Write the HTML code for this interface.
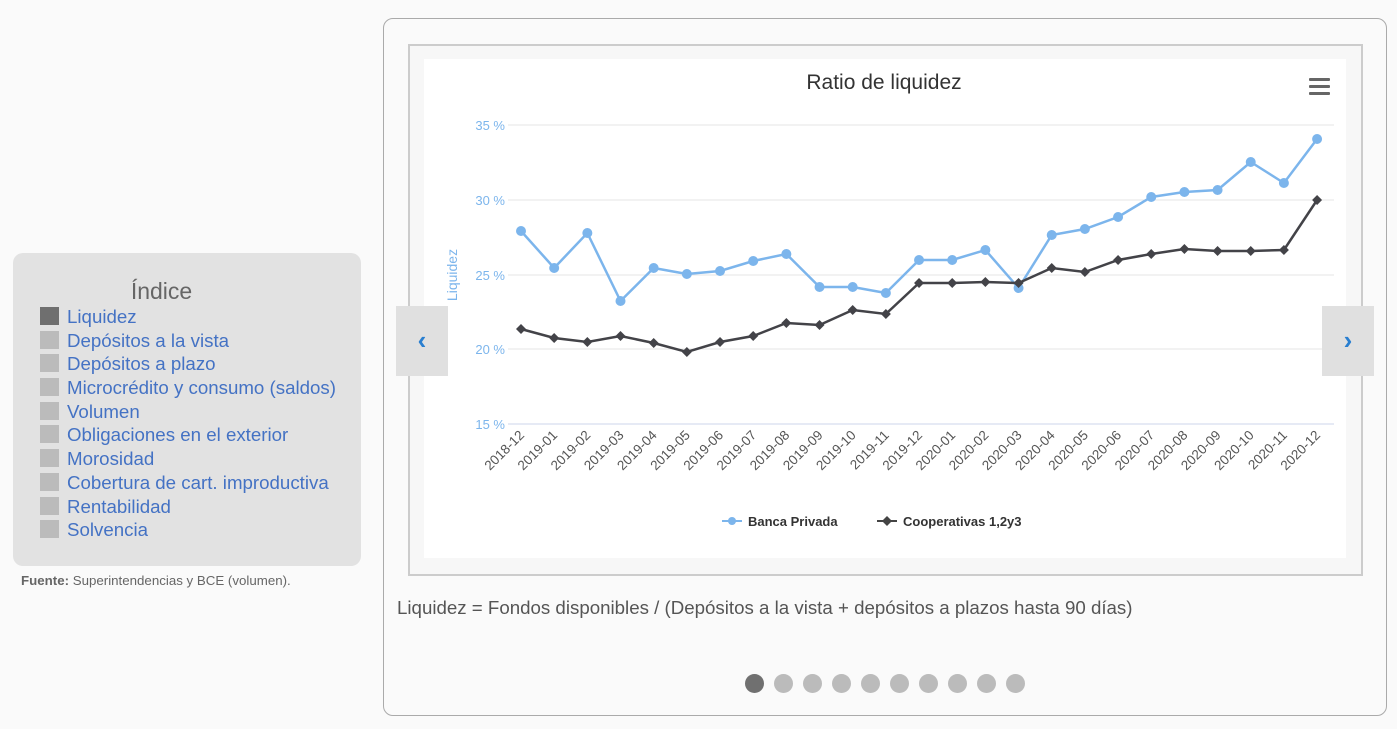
<!DOCTYPE html>
<html><head><meta charset="utf-8"><style>
body{margin:0;width:1397px;height:729px;background:#fafafa;font-family:"Liberation Sans",sans-serif;position:relative;overflow:hidden}
.idx{position:absolute;left:13px;top:253px;width:348px;height:313px;background:#e2e2e2;border-radius:10px}
.idx h3{margin:0;position:absolute;top:25px;left:0;width:297px;text-align:center;font-weight:normal;font-size:23px;color:#666}
.idx ul{list-style:none;margin:0;padding:0;position:absolute;left:27px;top:53px}
.idx li{height:23.7px;font-size:18.7px;color:#4472c4;line-height:22px;position:relative;padding-left:27px;white-space:nowrap}
.idx li:before{content:"";position:absolute;left:0;top:1px;width:19px;height:18px;background:#bbb}
.idx li.a:before{background:#6f6f6f}
.src{position:absolute;left:21px;top:573px;font-size:13.3px;color:#666}
.card{position:absolute;left:383px;top:18px;width:1002px;height:696px;border:1px solid #aaa;border-radius:10px;background:#fafafa}
.frame{position:absolute;left:408px;top:44px;width:951px;height:528px;border:2px solid #ccc;background:#f7f7f7}
.chart{position:absolute;left:424px;top:59px;width:922px;height:499px;background:#fff}
.nav{position:absolute;top:306px;width:52px;height:70px;background:#e0e0e0;color:#2a7fd0;font-size:26px;text-align:center;line-height:68px;font-weight:bold}
.note{position:absolute;left:397px;top:597px;font-size:18.7px;color:#555;white-space:nowrap}
.dots{position:absolute;left:745px;top:674px}
.dots span{display:inline-block;width:19px;height:19px;border-radius:50%;background:#bbb;margin-right:10px}
</style></head><body>
<div class="idx"><h3>Índice</h3><ul>
<li class="a">Liquidez</li><li>Depósitos a la vista</li><li>Depósitos a plazo</li><li>Microcrédito y consumo (saldos)</li><li>Volumen</li><li>Obligaciones en el exterior</li><li>Morosidad</li><li>Cobertura de cart. improductiva</li><li>Rentabilidad</li><li>Solvencia</li></ul></div>
<div class="src"><b>Fuente:</b> Superintendencias y BCE (volumen).</div>
<div class="card"></div>
<div class="frame"></div>
<div class="chart"></div>
<svg id="s" style="position:absolute;left:0;top:0" width="1397" height="729" font-family="Liberation Sans, sans-serif">
<text x="884" y="89" text-anchor="middle" font-size="21" fill="#333">Ratio de liquidez</text>
<g fill="#666"><rect x="1309" y="78" width="21" height="3" rx="1"/><rect x="1309" y="85" width="21" height="3" rx="1"/><rect x="1309" y="92" width="21" height="3" rx="1"/></g>
<g stroke="#e6e6e6"><line x1="508" x2="1334" y1="125" y2="125"/><line x1="508" x2="1334" y1="200" y2="200"/><line x1="508" x2="1334" y1="275" y2="275"/><line x1="508" x2="1334" y1="349" y2="349"/></g>
<line x1="508" x2="1334" y1="424" y2="424" stroke="#ccd6eb"/>
<g fill="#7cb5ec" font-size="13" text-anchor="end"><text x="505" y="130">35 %</text><text x="505" y="205">30 %</text><text x="505" y="280">25 %</text><text x="505" y="354">20 %</text><text x="505" y="429">15 %</text></g>
<text transform="translate(457,275) rotate(-90)" text-anchor="middle" fill="#7cb5ec" font-size="14">Liquidez</text>
<g id="g"></g>
<g font-size="13" font-weight="bold" fill="#333">
<line x1="722" x2="742" y1="521" y2="521" stroke="#7cb5ec" stroke-width="2"/><circle cx="732" cy="521" r="4" fill="#7cb5ec"/><text x="748" y="526">Banca Privada</text>
<line x1="877" x2="897" y1="521" y2="521" stroke="#444" stroke-width="2"/><path d="M887 516 L892 521 L887 526 L882 521Z" fill="#444"/><text x="903" y="526">Cooperativas 1,2y3</text></g>
</svg>
<div class="nav" style="left:396px">‹</div>
<div class="nav" style="left:1322px">›</div>
<div class="note">Liquidez = Fondos disponibles / (Depósitos a la vista + depósitos a plazos hasta 90 días)</div>
<div class="dots"><span style="background:#707070"></span><span></span><span></span><span></span><span></span><span></span><span></span><span></span><span></span><span></span></div>
<script>
var b=[231,268,233,301,268,274,271,261,254,287,287,293,260,260,250,288,235,229,217,197,192,190,162,183,139];
var k=[329,338,342,336,343,352,342,336,323,325,310,314,283,283,282,283,268,272,260,254,249,251,251,250,200];
var L=[],h='',pb='',pk='';
for(var y=2018;y<=2020;y++)for(var m=1;m<=12;m++){if(y==2018&&m<12)continue;L.push(y+'-'+(m<10?'0':'')+m);}
for(var i=0;i<25;i++){var x=521+i*33.17;pb+=x+','+b[i]+' ';pk+=x+','+k[i]+' ';
h+='<text transform="translate('+(x+4)+',436) rotate(-45)" text-anchor="end" font-size="13.5" fill="#555">'+L[i]+'</text>';}
h+='<polyline points="'+pb+'" fill="none" stroke="#7cb5ec" stroke-width="2.5"/><polyline points="'+pk+'" fill="none" stroke="#434348" stroke-width="2.5"/>';
for(i=0;i<25;i++){var x=521+i*33.17;h+='<circle cx="'+x+'" cy="'+b[i]+'" r="5" fill="#7cb5ec"/>';
h+='<path d="M'+x+' '+(k[i]-5)+' L'+(x+5)+' '+k[i]+' L'+x+' '+(k[i]+5)+' L'+(x-5)+' '+k[i]+'Z" fill="#434348"/>';}
document.getElementById('g').innerHTML=h;
</script>
</body></html>
